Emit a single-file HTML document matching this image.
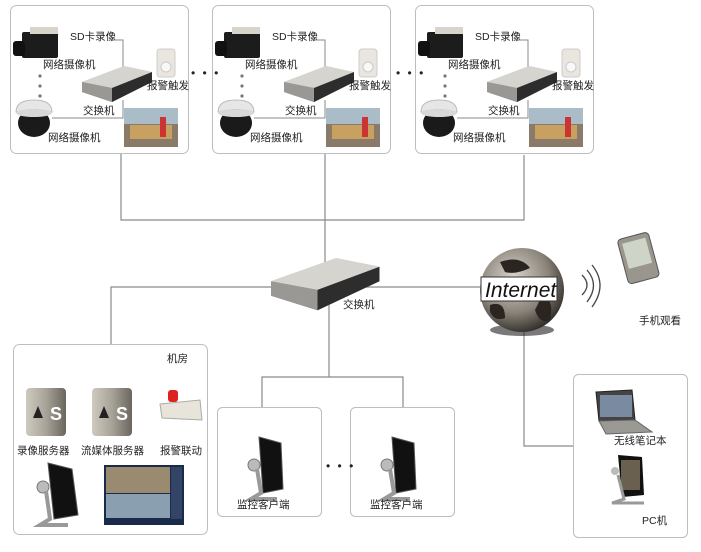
<!DOCTYPE html>
<html><head><meta charset="utf-8"><style>
html,body{margin:0;padding:0;background:#fff}
svg{display:block}
text{font-family:"Liberation Sans","Noto Sans CJK SC",sans-serif;font-size:10.5px;fill:#222}
</style></head><body>
<svg width="701" height="552" viewBox="0 0 701 552" xmlns="http://www.w3.org/2000/svg">
<defs>
<linearGradient id="sw" x1="0" y1="0" x2="0" y2="1"><stop offset="0" stop-color="#d8d6d2"/><stop offset="0.6" stop-color="#9a9894"/><stop offset="1" stop-color="#3a3a3a"/></linearGradient>
<radialGradient id="gl" cx="0.4" cy="0.35" r="0.7"><stop offset="0" stop-color="#d9d4cc"/><stop offset="0.6" stop-color="#8a837a"/><stop offset="1" stop-color="#2a2622"/></radialGradient>
<linearGradient id="srv" x1="0" y1="0" x2="1" y2="0"><stop offset="0" stop-color="#cfcac0"/><stop offset="0.5" stop-color="#a8a398"/><stop offset="1" stop-color="#6a665e"/></linearGradient>
<g id="switch">
<polygon points="0,16 42,0 70,6 70,16 30,36 0,26" fill="url(#sw)"/>
<polygon points="0,16 42,0 70,6 30,22" fill="#d6d4cf"/>
<polygon points="30,22 70,6 70,16 30,36" fill="#2d2d2d"/>
<polygon points="0,16 30,22 30,36 0,26" fill="#9a9894"/>
</g>
<g id="top">
<rect x="0.5" y="0.5" width="178" height="148" rx="6" fill="#fff" stroke="#bdbdbd"/>
<rect x="12" y="27" width="36" height="26" rx="2" fill="#1c1c1c"/>
<rect x="20" y="22" width="28" height="7" fill="#d8d4cc"/>
<rect x="3" y="36" width="12" height="15" rx="3" fill="#111"/>
<text x="60" y="35">SD卡录像</text>
<text x="33" y="63">网络摄像机</text>
<circle cx="30" cy="71" r="1.6" fill="#777"/><circle cx="30" cy="81" r="1.6" fill="#777"/><circle cx="30" cy="91" r="1.6" fill="#777"/>
<path d="M6,107 Q6,95 24,95 Q42,95 42,107 Z" fill="#e6e6e6" stroke="#bbb"/>
<ellipse cx="24" cy="118" rx="16" ry="14" fill="#1a1a1a"/>
<ellipse cx="24" cy="108" rx="18" ry="4" fill="#d8d8d8"/>
<text x="38" y="136">网络摄像机</text>
<polyline points="101,35 113,35 113,78" fill="none" stroke="#888" stroke-width="1"/>
<polyline points="42,113 113,113 113,95" fill="none" stroke="#888" stroke-width="1"/>
<use href="#switch" x="72" y="61"/>
<text x="73" y="109">交换机</text>
<rect x="147" y="44" width="18" height="28" rx="3" fill="#eae6df" stroke="#ccc"/>
<circle cx="156" cy="62" r="5" fill="#f8f8f8" stroke="#ccc"/>
<text x="137" y="84">报警触发</text>
<rect x="114" y="103" width="54" height="39" fill="#8a7a6a"/>
<rect x="114" y="103" width="54" height="16" fill="#a9bcc8"/>
<rect x="120" y="120" width="42" height="14" fill="#c8a060"/>
<rect x="150" y="112" width="6" height="20" fill="#c33"/>
</g>
<g id="client">
<rect x="0.5" y="0.5" width="104" height="109" rx="5" fill="#fff" stroke="#bdbdbd"/>
<g transform="translate(32,30)">
<polygon points="10,0 32,6 34,52 14,56" fill="#111" stroke="#555"/>
<circle cx="5" cy="28" r="6" fill="#bbb" stroke="#777"/>
<path d="M8,32 L12,56 L2,62 L28,62" fill="none" stroke="#999" stroke-width="4"/>
</g>
<text x="20" y="101">监控客户端</text>
</g>
</defs>

<g fill="none" stroke="#8a8a8a" stroke-width="1.2">
<polyline points="121,153 121,220 524,220 524,155"/>
<line x1="325" y1="153" x2="325" y2="265"/>
<polyline points="111,345 111,287 480,287"/>
<polyline points="329,305 329,377"/>
<polyline points="262,407 262,377 403,377 403,407"/>
<polyline points="524,330 524,446 573,446"/>
</g>

<use href="#top" x="10" y="5"/>
<use href="#top" x="212" y="5"/>
<use href="#top" x="415" y="5"/>
<text x="191" y="77" style="font-size:12px;letter-spacing:2px">• • •</text>
<text x="396" y="77" style="font-size:12px;letter-spacing:2px">• • •</text>

<g transform="translate(271,258) scale(1.55,1.45)"><use href="#switch"/></g>
<text x="343" y="308">交换机</text>

<ellipse cx="522" cy="330" rx="32" ry="6" fill="#222" opacity="0.6"/>
<circle cx="522" cy="290" r="42" fill="url(#gl)"/>
<path d="M500,262 Q520,255 530,268 Q515,275 505,272 Z M540,300 Q555,295 550,320 Q540,325 535,310 Z M490,305 Q505,300 505,318 Q495,322 490,312 Z" fill="#2a2520"/>
<rect x="481" y="277" width="76" height="24" fill="#fff" stroke="#333"/>
<text x="485" y="297" style="font-size:21px;font-style:italic;fill:#111">Internet</text>
<g fill="none" stroke="#444" stroke-width="1.3">
<path d="M582,275 Q592,285 582,295"/><path d="M587,270 Q600,285 587,302"/><path d="M592,265 Q608,285 592,307"/>
</g>
<g transform="translate(617,240) rotate(-15)">
<rect x="0" y="0" width="32" height="46" rx="4" fill="#9a968e" stroke="#555"/>
<rect x="4" y="5" width="24" height="26" fill="#cfd4c8"/>
</g>
<text x="639" y="324">手机观看</text>

<rect x="13.5" y="344.5" width="194" height="190" rx="6" fill="#fff" stroke="#bdbdbd"/>
<text x="167" y="362">机房</text>
<g>
<rect x="26" y="388" width="40" height="48" rx="4" fill="url(#srv)"/>
<text x="50" y="420" style="font-size:18px;font-weight:bold;fill:#fff">S</text>
<polygon points="33,418 38,406 43,418" fill="#222"/>
<rect x="92" y="388" width="40" height="48" rx="4" fill="url(#srv)"/>
<text x="116" y="420" style="font-size:18px;font-weight:bold;fill:#fff">S</text>
<polygon points="99,418 104,406 109,418" fill="#222"/>
<rect x="168" y="390" width="10" height="12" rx="3" fill="#d22"/>
<polygon points="160,404 200,400 202,420 162,418" fill="#e8e4da" stroke="#aaa"/>
</g>
<text x="17" y="454">录像服务器</text>
<text x="81" y="454">流媒体服务器</text>
<text x="160" y="454">报警联动</text>
<g transform="translate(38,463)">
<polygon points="10,0 34,6 40,52 16,56" fill="#111" stroke="#555"/>
<circle cx="5" cy="24" r="6" fill="#bbb" stroke="#777"/>
<path d="M8,28 L12,56 L2,62 L30,62" fill="none" stroke="#999" stroke-width="4"/>
</g>
<rect x="104" y="465" width="80" height="60" fill="#1a2a4a"/>
<rect x="106" y="467" width="64" height="26" fill="#9a8a70"/>
<rect x="106" y="494" width="64" height="24" fill="#8aa0b0"/>
<rect x="171" y="467" width="11" height="52" fill="#334466"/>

<use href="#client" x="217" y="407"/>
<use href="#client" x="350" y="407"/>
<text x="326" y="470" style="font-size:12px;letter-spacing:2px">• • •</text>

<rect x="573.5" y="374.5" width="114" height="163" rx="5" fill="#fff" stroke="#bdbdbd"/>
<polygon points="596,392 632,390 635,420 599,421" fill="#444" stroke="#222"/>
<rect x="600" y="395" width="32" height="22" fill="#7a8aa0"/>
<polygon points="599,421 635,420 652,432 606,434" fill="#9a9994" stroke="#666"/>
<text x="614" y="444">无线笔记本</text>
<g transform="translate(618,455)">
<polygon points="0,0 24,2 26,40 4,42" fill="#111"/>
<rect x="3" y="5" width="19" height="30" fill="#6a6050"/>
<circle cx="-3" cy="16" r="4" fill="#bbb"/>
<path d="M0,20 L6,44 L-6,48 L26,48" fill="none" stroke="#999" stroke-width="3"/>
</g>
<text x="642" y="524">PC机</text>
</svg>
</body></html>
